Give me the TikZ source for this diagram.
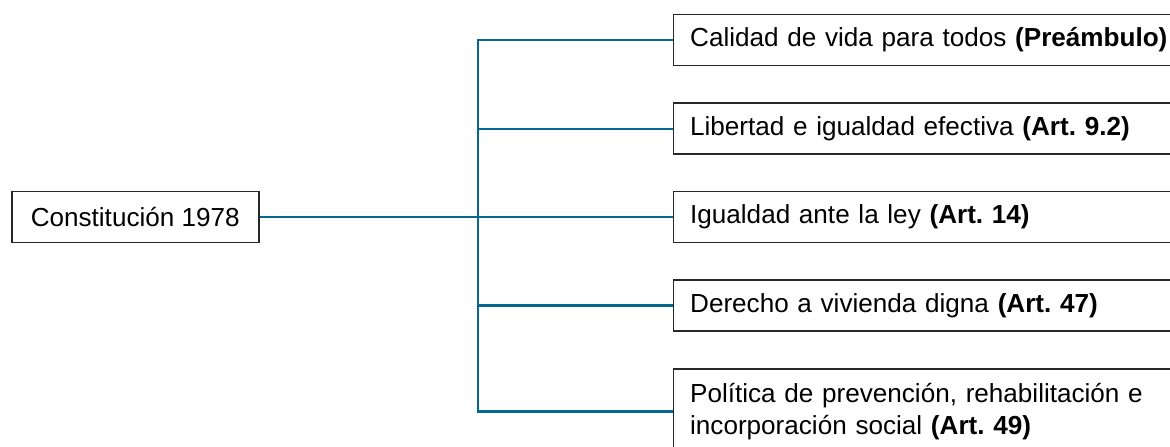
\documentclass[tikz,border=0pt]{standalone}
\usepackage{fontspec}
\setsansfont{Liberation Sans}
\usepackage{tikz}
\frenchspacing
\definecolor{linkblue}{RGB}{6,104,145}
\definecolor{boxgray}{RGB}{40,40,40}
\newcommand*{\picw  }{585pt}
\newcommand*{\pich  }{223pt}
\newcommand*{\trunkx}{239pt}
\newcommand*{\colx  }{336.4pt}
\newcommand*{\rowh  }{25.5pt}

\begin{document}
\begin{tikzpicture}[font=\sffamily\fontsize{13.05}{16}\selectfont,
    artbox/.style  = {draw=boxgray, line width=0.75pt, inner xsep=8.3pt, minimum height=\rowh, anchor=west},
    rightbox/.style = {artbox, text width=250pt, align=left},
    link/.style    = {draw=linkblue, line width=1.2pt}]
        \path [use as bounding box, clip] (0,0) rectangle (\picw,-\pich);
        \node [artbox, minimum width=123.5pt] (const) at (5.5pt,-108.5pt) {Constitución 1978};
        \node [rightbox] (pream) at (\colx, -19.9pt) {Calidad de vida para todos \textbf{(Preámbulo)}};
        \node [rightbox] (art92) at (\colx, -64.35pt) {Libertad e igualdad efectiva \textbf{(Art. 9.2)}};
        \node [rightbox] (art14) at (\colx,-108.5pt) {Igualdad ante la ley \textbf{(Art. 14)}};
        \node [rightbox] (art47) at (\colx,-152.7pt) {Derecho a vivienda digna \textbf{(Art. 47)}};
        \node [rightbox, anchor=north west, inner ysep=7pt] (art49) at (\colx,-184.2pt)
            {Política de prevención, rehabilitación e\\incorporación social \textbf{(Art. 49)}};
        \coordinate (hub) at (\trunkx,-108.5pt);
        \draw [link] (const.east) -- (hub);
        \draw [link] (hub) |- (pream.west);
        \draw [link] (hub) |- (art92.west);
        \draw [link] (hub) -- (art14.west);
        \draw [link] (hub) |- (art47.west);
        \draw [link] (hub) |- (art49.west);
    \end{tikzpicture}
\end{document}
